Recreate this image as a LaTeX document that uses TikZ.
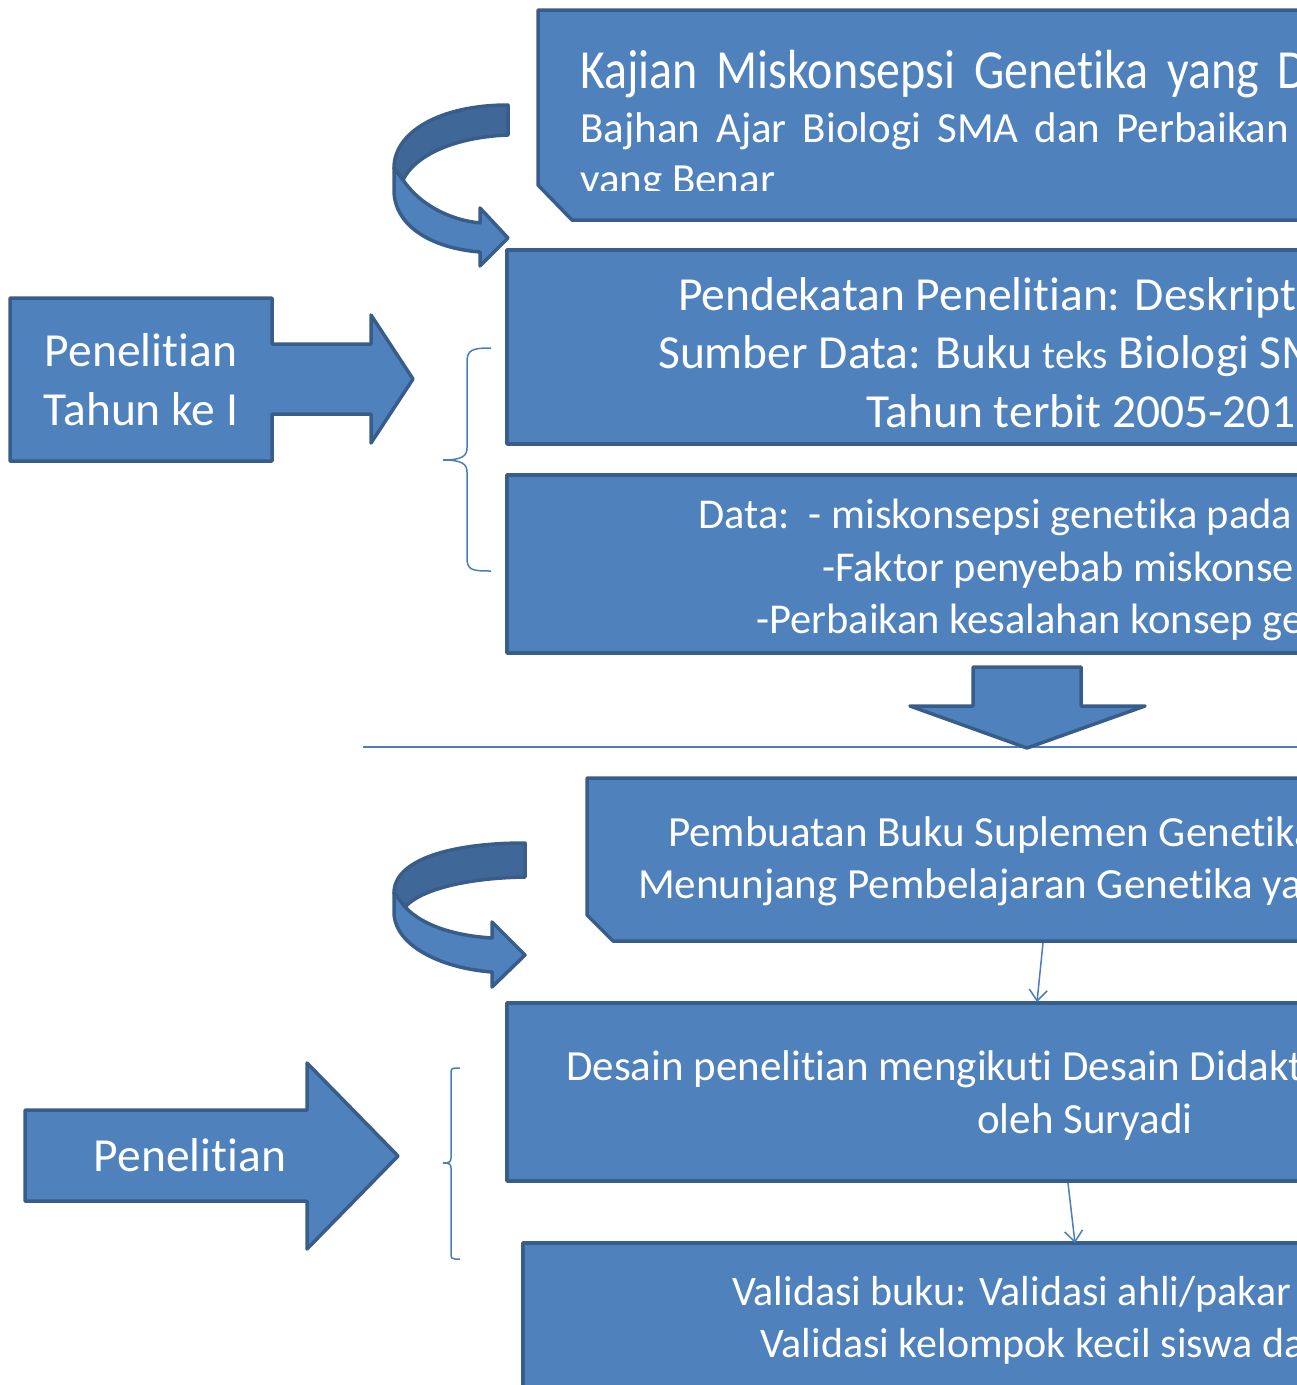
\documentclass[tikz,border=0pt]{standalone}
\usepackage{fontspec}
\setmainfont[RawFeature={-liga;-clig;-calt;-dlig;-rlig}]{Carlito}
\usetikzlibrary{arrows.meta}
\definecolor{fillblue}{HTML}{4F81BD}
\definecolor{edgeblue}{HTML}{385D8A}
\definecolor{darkband}{HTML}{3F6797}
\definecolor{lineblue}{HTML}{4A7EBB}
\tikzset{
  box/.style={fill=fillblue, draw=edgeblue, line width=3.5pt, line join=round},
  backband/.style={fill=darkband, draw=edgeblue, line width=3.5pt, line join=round},
  txt/.style={text=white, inner sep=0pt, anchor=base west},
  ctxt/.style={text=white, inner sep=0pt, anchor=base},
  thinarrow/.style={draw=lineblue, line width=1.5pt, -{Straight Barb[length=11pt,width=18pt,line width=1.5pt]}},
  rulestyle/.style={draw=lineblue, line width=1.5pt},
  bracestyle/.style={draw=lineblue, line width=1.5pt},
  fA/.style={font=\fontsize{43}{50}\selectfont},
  fC/.style={font=\fontsize{42.5}{50}\selectfont},
  fD/.style={font=\fontsize{42}{50}\selectfont},
  fB/.style={font=\fontsize{47.5}{54}\selectfont},
}
\begin{document}
\begin{tikzpicture}[x=1pt,y=-1pt]
\useasboundingbox (0,0) rectangle (1297,1385);
\clip (0,0) rectangle (1297,1385);

% ---------- top box ----------
\draw[box] (538,10) -- (1330,10) -- (1330,220) -- (572,220) -- (538,185) -- cycle;
\node[txt, font=\fontsize{48}{50}\selectfont] (k1) at (580,88)
  {\scalebox{1}[1.15]{\makebox[727pt][s]{Kajian Miskonsepsi Genetika yang D}}};
\node[txt, font=\fontsize{43}{50}\selectfont] (k2) at (580,142)
  {\makebox[709pt][s]{Bajhan Ajar Biologi SMA dan Perbaikan}};
\begin{scope}
  \clip (538,150) rectangle (1297,190);
  \node[txt, font=\fontsize{43}{50}\selectfont] (k3) at (580,193) {yang Benar};
\end{scope}

% ---------- curved arrow 1 ----------
\draw[backband] (508,105) -- (508,135) .. controls (455,137) and (415,155) .. (403,180)
  -- (394,168) .. controls (394,132) and (440,105) .. (508,105) -- cycle;
\draw[box] (394,168) -- (403,180) .. controls (420,205) and (450,220) .. (480,223)
  -- (480,208) -- (508,238) -- (480,266) -- (480,252)
  .. controls (430,248) and (394,225) .. (394,190) -- cycle;

% ---------- box 2 ----------
\draw[box] (507,250) rectangle (1330,444);
\node[txt, fB] (p1) at (678,310) {Pendekatan Penelitian: Deskript};
\node[txt, fB] (p2) at (658,368) {Sumber Data: Buku {\fontsize{39}{40}\selectfont teks} Biologi SM};
\node[txt, fB] (p3) at (866,427) {Tahun terbit 2005-201};

% ---------- box 3 ----------
\draw[box] (507,475) rectangle (1330,653);
\node[txt, fC] (d1) at (698,528) {Data:\ \ - miskonsepsi genetika pada};
\node[txt, fC] (d2) at (822,581) {-Faktor penyebab miskonse};
\node[txt, fC] (d3) at (756,633) {-Perbaikan kesalahan konsep ge};

% ---------- left arrow 1 ----------
\draw[box] (10,298) -- (272,298) -- (272,344) -- (371,344) -- (371,315) -- (413,379)
  -- (371,443) -- (371,414) -- (272,414) -- (272,461) -- (10,461) -- cycle;
\node[ctxt, fB] (t1) at (141,366) {Penelitian};
\node[ctxt, fB] (t2) at (141,425) {Tahun ke I};

% ---------- brace 1 ----------
\draw[bracestyle] (491,348) .. controls (472,348) and (467,350) .. (467,362) -- (467,448)
  .. controls (467,456) and (462,460) .. (443,460)
  .. controls (462,460) and (467,464) .. (467,472) -- (467,558)
  .. controls (467,570) and (472,571) .. (491,571);

% ---------- separator and down arrow ----------
\draw[rulestyle] (363,747) -- (1297,747);
\draw[box] (973,667) -- (1081,667) -- (1081,706) -- (1145,706) -- (1027,748)
  -- (910,706) -- (973,706) -- cycle;

% ---------- box 4 ----------
\draw[box] (587,778) -- (1330,778) -- (1330,941) -- (613,941) -- (587,915) -- cycle;
\node[txt, fA] (m1) at (668,846) {Pembuatan Buku Suplemen Genetika};
\node[txt, fA] (m2) at (638,898) {Menunjang Pembelajaran Genetika ya};

% ---------- curved arrow 2 ----------
\draw[backband] (525,843) -- (525,877) .. controls (465,878) and (420,890) .. (405,907)
  -- (394,893) .. controls (394,860) and (450,843) .. (525,843) -- cycle;
\draw[box] (394,893) -- (405,907) .. controls (425,928) and (460,936) .. (492,938)
  -- (492,922) -- (525,955) -- (492,987) -- (492,972)
  .. controls (440,968) and (394,945) .. (394,912) -- cycle;

% ---------- box 5 ----------
\draw[box] (507,1003) rectangle (1330,1181);
\node[txt, fA] (s1) at (566,1080) {Desain penelitian mengikuti Desain Didakt};
\node[txt, fA] (s2) at (977,1133) {oleh Suryadi};

% ---------- box 6 ----------
\draw[box] (523,1243) rectangle (1330,1400);
\node[txt, fD] (v1) at (732,1305) {Validasi buku: Validasi ahli/pakar};
\node[txt, fD] (v2) at (760,1357) {Validasi kelompok kecil siswa da};

% ---------- thin connectors ----------
\coordinate (c4s) at (1043,943);
\coordinate (c5n) at (1037,1002);
\coordinate (c5s) at (1068,1183);
\coordinate (c6n) at (1075,1243);
\draw[thinarrow] (c4s) -- (c5n);
\draw[thinarrow] (c5s) -- (c6n);

% ---------- left arrow 2 ----------
\draw[box] (25,1110) -- (307,1110) -- (307,1063) -- (398,1156) -- (307,1249)
  -- (307,1201) -- (25,1201) -- cycle;
\node[ctxt, fB] (t3) at (190,1171) {Penelitian};

% ---------- brace 2 ----------
\draw[bracestyle] (460,1068) -- (455,1068) .. controls (452,1068) and (451,1069) .. (451,1073)
  -- (451,1158) .. controls (451,1162) and (449,1163) .. (443,1163)
  .. controls (449,1163) and (451,1164) .. (451,1168) -- (451,1254)
  .. controls (451,1258) and (452,1259) .. (455,1259) -- (460,1259);
\end{tikzpicture}
\end{document}
